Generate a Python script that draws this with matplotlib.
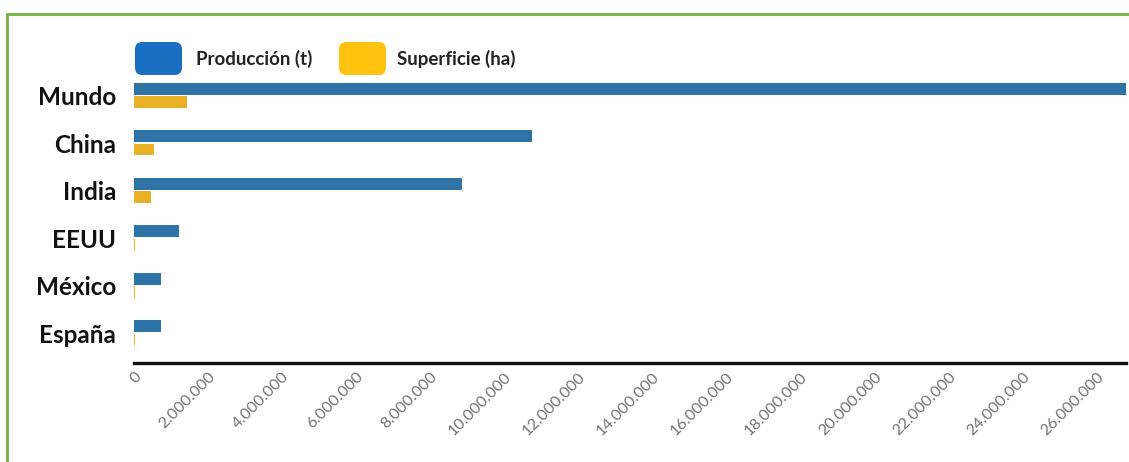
import matplotlib
matplotlib.use("Agg")
import matplotlib.pyplot as plt
from matplotlib.patches import FancyBboxPatch, Rectangle
from matplotlib.ticker import FuncFormatter, MultipleLocator

# Data
paises = ["Mundo", "China", "India", "EEUU", "México", "España"]
produccion_t = [26_800_000, 10_760_000, 8_860_000, 1_220_000, 730_000, 730_000]
superficie_ha = [1_430_000, 540_000, 460_000, 25_000, 20_000, 20_000]
series_labels = ["Producción (t)", "Superficie (ha)"]

col_prod = "#2f72a6"
col_sup = "#e9b026"
col_prod_leg = "#1b6fc2"
col_sup_leg = "#ffc20e"
col_border = "#77b043"

W, H = 1129, 462
fig = plt.figure(figsize=(W / 100, H / 100), dpi=100)
fig.patch.set_facecolor("white")

ax = fig.add_axes([134 / W, 1 - 363 / H, (1126 - 134) / W, (363 - 72) / H])

y = list(range(len(paises)))
ax.barh([v - 0.15 for v in y], produccion_t, height=0.25, color=col_prod, zorder=2)
ax.barh([v + 0.13 for v in y], superficie_ha, height=0.24, color=col_sup, zorder=2)

ax.set_xlim(0, 26_800_000)
ax.set_ylim(len(paises) - 1 + 0.62, -0.5)

for s in ["top", "right", "left"]:
    ax.spines[s].set_visible(False)
ax.spines["bottom"].set_linewidth(2.4)
ax.spines["bottom"].set_color("#111111")

ax.xaxis.set_major_locator(MultipleLocator(2_000_000))
ax.xaxis.set_major_formatter(FuncFormatter(lambda v, p: f"{int(v):,}".replace(",", ".")))
ax.tick_params(axis="x", length=0, pad=5, labelsize=11.5, labelcolor="#737373")
for lbl in ax.get_xticklabels():
    lbl.set_rotation(45)
    lbl.set_ha("right")
    lbl.set_va("top")
    lbl.set_rotation_mode("anchor")
    lbl.set_family("Lato")

ax.set_yticks(y)
ax.set_yticklabels(paises, fontsize=17.5, fontweight="bold", family="Lato", color="#111111")
ax.tick_params(axis="y", length=0, pad=13)

# Legend drawn as rounded swatches in figure space
def swatch(x0, color):
    fig.patches.append(FancyBboxPatch((x0 / W, 1 - 75 / H), 47 / W, 33 / H,
                                      boxstyle="round,pad=0,rounding_size=0.0065",
                                      transform=fig.transFigure, facecolor=color,
                                      edgecolor="none", mutation_aspect=W / H))

swatch(135, col_prod_leg)
swatch(339, col_sup_leg)
fig.text(196 / W, 1 - 59 / H, series_labels[0], fontsize=13.5, fontweight="bold",
         family="Lato", color="#222222", va="center", ha="left")
fig.text(397 / W, 1 - 59 / H, series_labels[1], fontsize=13.5, fontweight="bold",
         family="Lato", color="#222222", va="center", ha="left")

# Frame around the panel
fig.patches.append(Rectangle((7 / W, -0.1), 1.2, 1.1 - 14 / H, transform=fig.transFigure,
                             fill=False, edgecolor=col_border, linewidth=2))

fig.savefig("out.png", dpi=100, facecolor="white")
